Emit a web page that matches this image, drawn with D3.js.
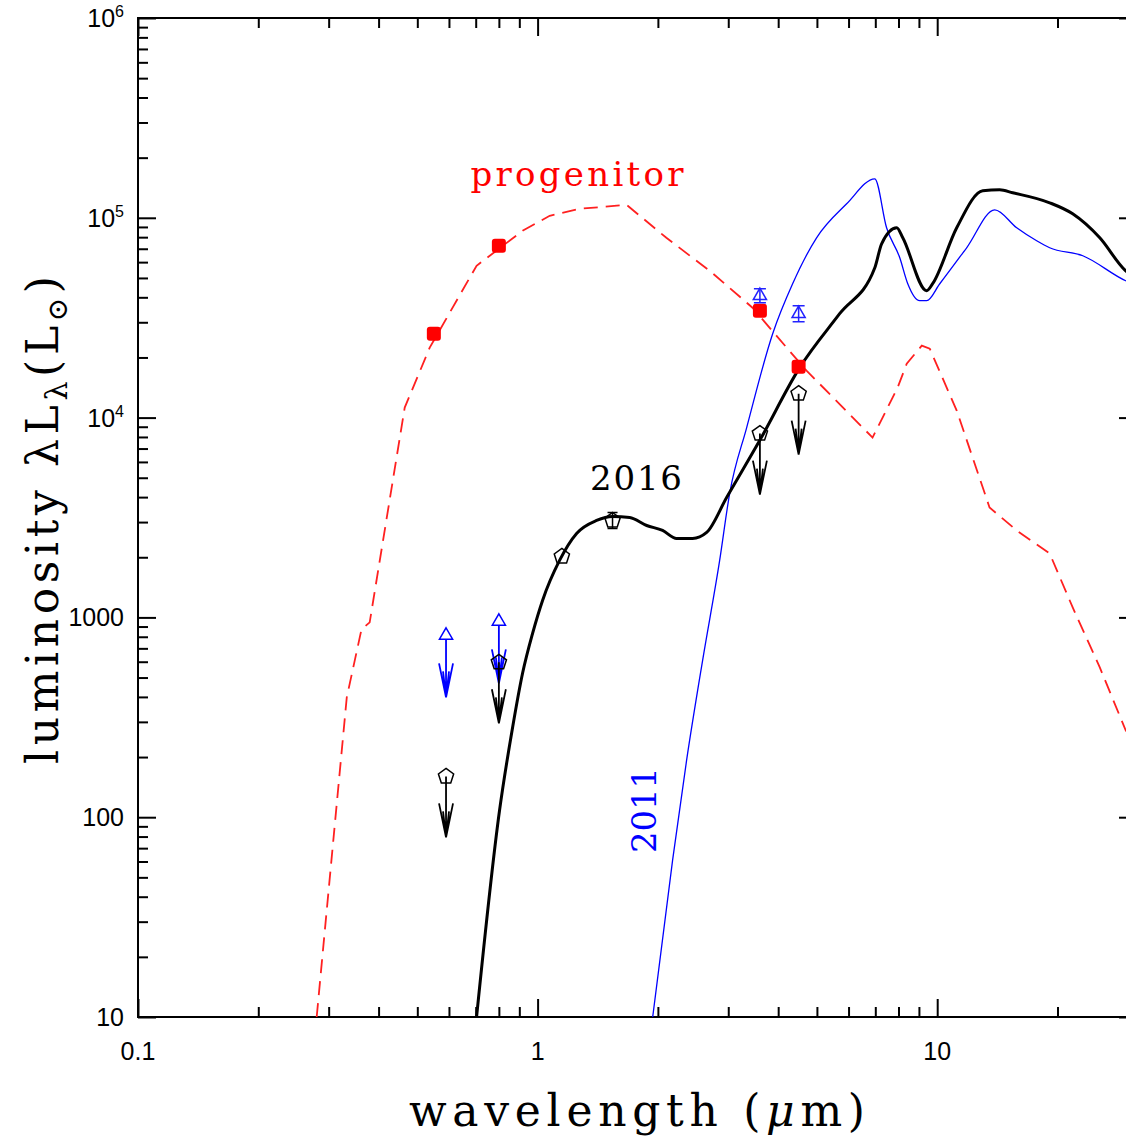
<!DOCTYPE html>
<html lang="en">
<head>
  <meta charset="UTF-8">
  <title>SED: progenitor, 2011, 2016</title>
  <script src="https://d3js.org/d3.v7.min.js"></script>
  <style>
    body {
      margin: 0;
      padding: 0;
      background: #fff;
    }
    svg {
      display: block;
    }
    .tick-label {
      font-family: "Liberation Sans", Arial, sans-serif;
      font-size: 25px;
      fill: #000;
    }
    .axis-title {
      font-family: "DejaVu Serif", serif;
      font-size: 44px;
      fill: #000;
    }
  </style>
</head>
<body>
<svg id="chart" width="1126" height="1141"></svg>

<script>
// model curves (wavelength in micron, luminosity in Lsun)
const progWave = [0.280, 0.333, 0.3625, 0.380, 0.465, 0.537, 0.7035, 0.917, 1.072, 1.274, 1.67,
                  2.10, 2.695, 3.45, 4.20, 4.71, 6.89, 7.96, 8.39, 9.15, 9.58, 11.19, 13.52,
                  15.81, 19.12, 21.83, 25.52, 29.63, 31.6];
const progLum  = [10, 398, 871, 944, 11220, 22390, 57540, 86100, 102300, 110900, 116100,
                  79430, 54330, 35480, 22390, 17180, 7943, 14125, 18620, 22910, 22130, 10840, 3548,
                  2723, 2089, 1122, 562, 272, 230];

const sn2016Wave = [0.7035, 0.803, 0.866, 0.917, 0.9716, 1.029, 1.135, 1.252, 1.405, 1.54, 1.70,
                    1.875, 2.055, 2.228, 2.443, 2.649, 2.972, 3.595, 4.527, 5.70, 6.98, 7.26,
                    7.92, 8.20, 9.41, 9.74, 11.19, 13.0, 14.33, 15.45, 19.12, 21.83, 25.52, 29.63, 31.6];
const sn2016Lum  = [10, 108, 282, 525, 832, 1216, 1928, 2630, 3055, 3199, 3162,
                    2884, 2723, 2483, 2483, 2661, 3981, 7674, 17780, 33110, 56230, 74130,
                    89130, 79430, 43150, 46770, 89130, 136500, 138000, 133400, 118900, 104700, 79430, 54330, 50000];

const sn2011Wave = [1.941, 2.177, 2.36, 2.588, 2.855, 3.024, 3.336, 3.875, 4.347, 4.99, 5.935,
                    6.98, 7.47, 8.06, 8.44, 9.04, 9.41, 10.15, 11.85, 13.93, 15.81, 17.74,
                    19.12, 23.14, 29.63, 31.6];
const sn2011Lum  = [10, 61, 193, 610, 1928, 4169, 8913, 26300, 46770, 79430, 117500,
                    156700, 89130, 63100, 46770, 38460, 38460, 46770, 70800, 109600, 89130, 76740,
                    70800, 64570, 48420, 46000];

// photometry
const progPhotWave = [0.55, 0.80, 3.6, 4.5];
const progPhotLum  = [26300, 72440, 34280, 17990];

const det2011Wave = [3.6, 4.5];
const det2011Lum  = [40740, 33110];
const det2011Err  = [0.035, 0.04];   // dex

const lim2011Wave = [0.59, 0.80];
const lim2011Lum  = [813, 955];

const det2016Wave = [1.15, 1.54];
const det2016Lum  = [2018, 3055];
const det2016Err  = [0, 0.04];       // dex

const lim2016Wave = [0.59, 0.80, 3.6, 4.5];
const lim2016Lum  = [160, 596, 8318, 13180];

// axes
const xMajorTicks = [0.1, 1, 10];
const xTickLabels = ["0.1", "1", "10"];
const yMajorTicks = [10, 100, 1000, 1e4, 1e5, 1e6];
const yTickBase   = ["10", "100", "1000", "10", "10", "10"];
const yTickExp    = ["", "", "", "4", "5", "6"];

const svg = d3.select("#chart");
const m = {left: 138, right: 1137, top: 18, bottom: 1017};

const x = d3.scaleLog().domain([0.1, Math.pow(10, 1.5)]).range([m.left, m.right]);
const y = d3.scaleLog().domain([10, 1e6]).range([m.bottom, m.top]);

const isMajor = v => Math.abs(Math.log10(v) - Math.round(Math.log10(v))) < 1e-9;
const xMinor = x.ticks().filter(v => !isMajor(v));
const yMinor = y.ticks().filter(v => !isMajor(v));

const defs = svg.append("defs");
defs.append("clipPath").attr("id", "clip")
  .append("rect").attr("x", m.left).attr("y", m.top)
  .attr("width", m.right - m.left).attr("height", m.bottom - m.top);

// inward ticks on all four sides
function ticks(axisFn, scale, values, size, transform) {
  const g = svg.append("g")
    .attr("transform", transform)
    .call(axisFn(scale).tickValues(values).tickSize(size).tickSizeOuter(0).tickFormat(""));
  g.select(".domain").remove();
  g.selectAll("line").attr("stroke", "#000").attr("stroke-width", 2);
}
ticks(d3.axisTop, x, xMinor, 10, `translate(0,${m.bottom})`);
ticks(d3.axisTop, x, xMajorTicks, 18, `translate(0,${m.bottom})`);
ticks(d3.axisBottom, x, xMinor, 10, `translate(0,${m.top})`);
ticks(d3.axisBottom, x, xMajorTicks, 18, `translate(0,${m.top})`);
ticks(d3.axisRight, y, yMinor, 10, `translate(${m.left},0)`);
ticks(d3.axisRight, y, yMajorTicks, 18, `translate(${m.left},0)`);
ticks(d3.axisLeft, y, yMinor, 10, `translate(${m.right},0)`);
ticks(d3.axisLeft, y, yMajorTicks, 18, `translate(${m.right},0)`);

svg.append("rect")
  .attr("x", m.left).attr("y", m.top)
  .attr("width", m.right - m.left).attr("height", m.bottom - m.top)
  .attr("fill", "none").attr("stroke", "#000").attr("stroke-width", 2);

// tick labels
svg.selectAll(".xlab").data(xMajorTicks).enter().append("text")
  .attr("class", "tick-label")
  .attr("x", d => x(d)).attr("y", m.bottom + 43)
  .attr("text-anchor", "middle")
  .text((d, i) => xTickLabels[i]);

const ylab = svg.selectAll(".ylab").data(yMajorTicks).enter().append("text")
  .attr("class", "tick-label")
  .attr("x", m.left - 14).attr("y", d => y(d) + 9)
  .attr("text-anchor", "end");
ylab.append("tspan").text((d, i) => yTickBase[i]);
ylab.append("tspan")
  .attr("dy", -10).attr("font-size", 16)
  .text((d, i) => yTickExp[i]);

// axis titles
svg.append("text")
  .attr("class", "axis-title")
  .attr("x", 637).attr("y", 1126)
  .attr("text-anchor", "middle")
  .attr("textLength", 456)
  .html("wavelength (<tspan font-style=\"italic\">μ</tspan>m)");

const yt = svg.append("text")
  .attr("class", "axis-title")
  .attr("transform", "translate(58,520) rotate(-90)")
  .attr("text-anchor", "middle")
  .attr("textLength", 488);
yt.append("tspan").text("luminosity λL");
yt.append("tspan").attr("dy", 9).attr("font-size", 30).text("λ");
yt.append("tspan").attr("dy", -9).text("(L");
yt.append("tspan").attr("dy", 9).attr("font-size", 28).text("⊙");
yt.append("tspan").attr("dy", -9).text(")");

// curves
const line = d3.line().x(d => x(d[0])).y(d => y(d[1]));
const curves = svg.append("g").attr("clip-path", "url(#clip)");

curves.append("path")
  .datum(d3.zip(progWave, progLum))
  .attr("d", line)
  .attr("fill", "none")
  .attr("stroke", "#ff2020")
  .attr("stroke-width", 1.8)
  .attr("stroke-dasharray", "14,8");

const smooth = d3.line().x(d => x(d[0])).y(d => y(d[1])).curve(d3.curveMonotoneX);

curves.append("path")
  .datum(d3.zip(sn2011Wave, sn2011Lum))
  .attr("d", smooth)
  .attr("fill", "none")
  .attr("stroke", "#0000ff")
  .attr("stroke-width", 1.3);

curves.append("path")
  .datum(d3.zip(sn2016Wave, sn2016Lum))
  .attr("d", smooth)
  .attr("fill", "none")
  .attr("stroke", "#000")
  .attr("stroke-width", 3);

// marker helpers
const pentagon = r => d3.range(5).map(k => {
  const a = -Math.PI / 2 + k * 2 * Math.PI / 5;
  return [r * Math.cos(a), r * Math.sin(a)];
});
const pentPath = "M" + pentagon(8).join("L") + "Z";
const triPath = d3.symbol().type(d3.symbolTriangle).size(75)();

function arrow(g, color, len) {
  g.append("path")
    .attr("d", `M0,0V${len}M-7,${len - 34}L0,${len}L7,${len - 34}M-3,${len - 26}L0,${len}L3,${len - 26}`)
    .attr("fill", "none").attr("stroke", color).attr("stroke-width", 1.8);
}

const plot = svg.append("g");

// progenitor photometry
plot.selectAll(".prog").data(d3.zip(progPhotWave, progPhotLum)).enter().append("rect")
  .attr("x", d => x(d[0]) - 7).attr("y", d => y(d[1]) - 7)
  .attr("width", 14).attr("height", 14).attr("rx", 3)
  .attr("fill", "#ff0000");

// 2011 detections with error bars
const d11 = plot.selectAll(".d11").data(d3.zip(det2011Wave, det2011Lum, det2011Err)).enter().append("g")
  .attr("transform", d => `translate(${x(d[0])},${y(d[1])})`);
d11.append("path")
  .attr("d", d => {
    const hi = y(d[1] * Math.pow(10, d[2])) - y(d[1]);
    const lo = y(d[1] / Math.pow(10, d[2])) - y(d[1]);
    return `M0,${hi}V${lo}M-6,${hi}H6M-6,${lo}H6`;
  })
  .attr("stroke", "#2222ff").attr("stroke-width", 1.5).attr("fill", "none");
d11.append("path").attr("d", triPath)
  .attr("fill", "none").attr("stroke", "#2222ff").attr("stroke-width", 1.5);

// 2011 upper limits
const l11 = plot.selectAll(".l11").data(d3.zip(lim2011Wave, lim2011Lum)).enter().append("g")
  .attr("transform", d => `translate(${x(d[0])},${y(d[1])})`);
arrow(l11, "#0000ff", 62);
l11.append("path").attr("d", triPath)
  .attr("fill", "#fff").attr("stroke", "#0000ff").attr("stroke-width", 1.5);

// 2016 upper limits
const l16 = plot.selectAll(".l16").data(d3.zip(lim2016Wave, lim2016Lum)).enter().append("g")
  .attr("transform", d => `translate(${x(d[0])},${y(d[1])})`);
l16.append("path").attr("d", pentPath)
  .attr("fill", "none").attr("stroke", "#000").attr("stroke-width", 1.5);
arrow(l16, "#000", 61);

// 2016 detections
const d16 = plot.selectAll(".d16").data(d3.zip(det2016Wave, det2016Lum, det2016Err)).enter().append("g")
  .attr("transform", d => `translate(${x(d[0])},${y(d[1])})`);
d16.append("path")
  .attr("d", d => {
    if (!d[2]) return "";
    const hi = y(d[1] * Math.pow(10, d[2])) - y(d[1]);
    const lo = y(d[1] / Math.pow(10, d[2])) - y(d[1]);
    return `M0,${hi}V${lo}M-5,${hi}H5M-5,${lo}H5`;
  })
  .attr("stroke", "#000").attr("stroke-width", 1.5).attr("fill", "none");
d16.append("path").attr("d", pentPath)
  .attr("fill", "none").attr("stroke", "#000").attr("stroke-width", 1.5);

// curve labels
svg.append("text")
  .attr("x", 577).attr("y", 186)
  .attr("text-anchor", "middle")
  .attr("textLength", 213)
  .attr("font-family", "DejaVu Serif, serif")
  .attr("font-size", 34)
  .attr("fill", "#ff0000")
  .text("progenitor");

svg.append("text")
  .attr("x", 636).attr("y", 490)
  .attr("text-anchor", "middle")
  .attr("textLength", 92)
  .attr("font-family", "DejaVu Serif, serif")
  .attr("font-size", 34)
  .attr("fill", "#000")
  .text("2016");

svg.append("text")
  .attr("transform", "translate(656,810) rotate(-90)")
  .attr("text-anchor", "middle")
  .attr("textLength", 86)
  .attr("font-family", "DejaVu Serif, serif")
  .attr("font-size", 34)
  .attr("fill", "#0000ff")
  .text("2011");
</script>
</body>
</html>
